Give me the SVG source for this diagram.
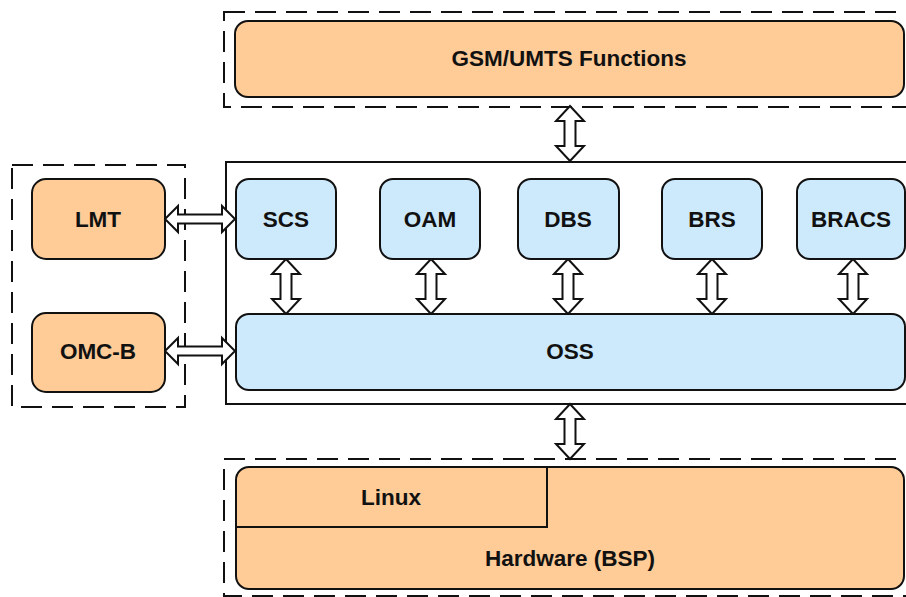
<svg xmlns="http://www.w3.org/2000/svg" xmlns:xlink="http://www.w3.org/1999/xlink" width="906" height="597" viewBox="0 0 906 597">
  <style>
    .dash { fill: none; stroke: #111; stroke-width: 2; stroke-dasharray: 21 10; }
    .frame { fill: none; stroke: #111; stroke-width: 2; }
    .ext { fill: #ffcb97; stroke: #111; stroke-width: 2; }
    .mod { fill: #cde9fc; stroke: #111; stroke-width: 2; }
    .sep { fill: none; stroke: #111; stroke-width: 2; }
    .arrow { fill: #fff; stroke: #111; stroke-width: 2; stroke-linejoin: miter; }
    .lbl { font-family: "Liberation Sans", Arial, sans-serif; font-weight: bold; font-size: 22.5px; fill: #111; text-anchor: middle; }
  </style>
  <defs>
    <!-- hollow double-headed arrows -->
    <path id="varrow" class="arrow" d="M0,0 L14,15 L5.5,15 L5.5,40 L14,40 L0,55 L-14,40 L-5.5,40 L-5.5,15 L-14,15 Z"/>
    <path id="harrow" class="arrow" d="M0,0 L13,-13 L13,-4.5 L57,-4.5 L57,-13 L70,0 L57,13 L57,4.5 L13,4.5 L13,13 Z"/>
  </defs>

  <!-- containers -->
  <g id="containers">
    <rect class="dash" x="224" y="12" width="700" height="95"/>
    <rect class="frame" x="226" y="162" width="700" height="242"/>
    <rect class="dash" x="12" y="165" width="173" height="242"/>
    <rect class="dash" x="224" y="459" width="700" height="137"/>
  </g>

  <!-- connectors -->
  <g id="connectors">
    <use xlink:href="#varrow" x="570" y="106"/>
    <use xlink:href="#varrow" x="286" y="259"/>
    <use xlink:href="#varrow" x="431" y="259"/>
    <use xlink:href="#varrow" x="568" y="259"/>
    <use xlink:href="#varrow" x="712" y="259"/>
    <use xlink:href="#varrow" x="853" y="259"/>
    <use xlink:href="#varrow" x="570" y="404"/>
    <use xlink:href="#harrow" x="165" y="219"/>
    <use xlink:href="#harrow" x="165" y="351"/>
  </g>

  <g id="gsm">
    <rect class="ext" x="235" y="21" width="669" height="76" rx="13"/>
    <text class="lbl" x="569" y="66">GSM/UMTS Functions</text>
  </g>

  <g id="lmt">
    <rect class="ext" x="32" y="179" width="133" height="80" rx="14"/>
    <text class="lbl" x="98" y="227">LMT</text>
  </g>
  <g id="omcb">
    <rect class="ext" x="32" y="313" width="133" height="79" rx="14"/>
    <text class="lbl" x="98" y="359">OMC-B</text>
  </g>

  <g id="scs">
    <rect class="mod" x="236" y="179" width="100" height="80" rx="13"/>
    <text class="lbl" x="286" y="227">SCS</text>
  </g>
  <g id="oam">
    <rect class="mod" x="380" y="179" width="100" height="80" rx="13"/>
    <text class="lbl" x="430" y="227">OAM</text>
  </g>
  <g id="dbs">
    <rect class="mod" x="518" y="179" width="101" height="80" rx="13"/>
    <text class="lbl" x="568" y="227">DBS</text>
  </g>
  <g id="brs">
    <rect class="mod" x="662" y="179" width="100" height="80" rx="13"/>
    <text class="lbl" x="712" y="227">BRS</text>
  </g>
  <g id="bracs">
    <rect class="mod" x="797" y="179" width="108" height="80" rx="13"/>
    <text class="lbl" x="851" y="227">BRACS</text>
  </g>

  <g id="oss">
    <rect class="mod" x="236" y="314" width="669" height="76" rx="13"/>
    <text class="lbl" x="570" y="359">OSS</text>
  </g>

  <g id="platform">
    <rect class="ext" x="236" y="467" width="668" height="122" rx="13"/>
    <path class="sep" d="M236,527 H547 V467"/>
    <text class="lbl" x="391" y="505">Linux</text>
    <text class="lbl" x="570" y="566">Hardware (BSP)</text>
  </g>
</svg>
